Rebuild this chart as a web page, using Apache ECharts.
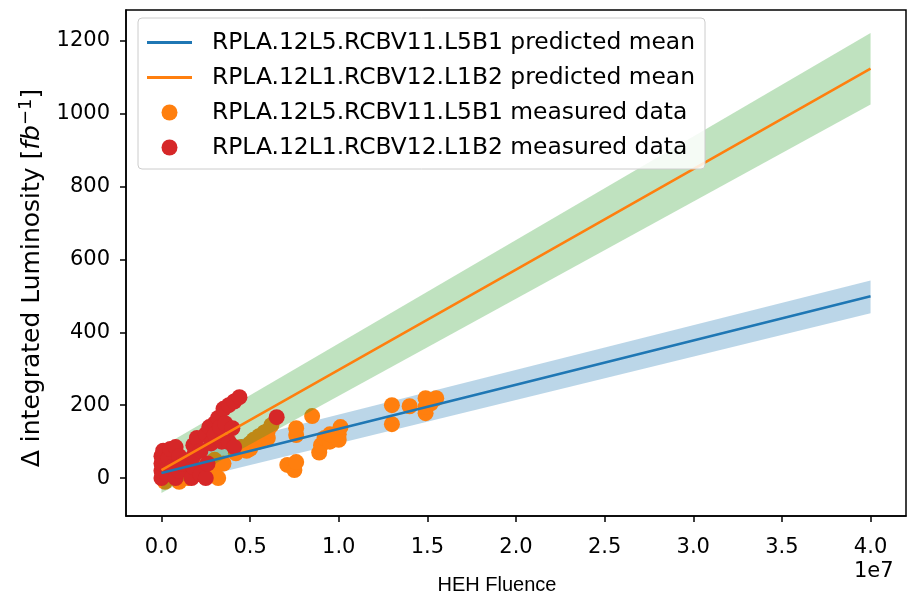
<!DOCTYPE html>
<html>
<head>
<meta charset="utf-8">
<script src="https://cdn.jsdelivr.net/npm/echarts@6/dist/echarts.min.js"></script>
<style>
html, body {margin: 0; padding: 0; background: #fff;}
#chart {width: 907px; height: 595px;}
</style>
</head>
<body>
<div id="chart"></div>
<script>
// x values are HEH fluence in units of 1e7
var xTicks = [0, 0.5, 1, 1.5, 2, 2.5, 3, 3.5, 4];
var yTicks = [0, 200, 400, 600, 800, 1000, 1200];

var meanX = [0, 2, 4];
var meanL5B1 = [14, 256, 499];
var meanL1B2 = [22, 572, 1123];

var bandX = [0, 4];
var bandL5B1Low = [-24, 452];
var bandL5B1High = [52, 542];
var bandL1B2Low = [-41, 1025];
var bandL1B2High = [85, 1221];

var measuredL5B1 = [
    [0.02, -10], [0.05, 5], [0.1, -10], [0.12, 10], [0.15, 0], [0.2, 30],
    [0.28, 20], [0.3, 14], [0.32, 0], [0.3, 50], [0.35, 40], [0.42, 68],
    [0.45, 85], [0.48, 75], [0.5, 95], [0.5, 80], [0.52, 105], [0.55, 100],
    [0.55, 115], [0.58, 125], [0.6, 110], [0.6, 130], [0.62, 145],
    [0.71, 36], [0.75, 22], [0.76, 44], [0.76, 118], [0.76, 137], [0.85, 170],
    [0.89, 70], [0.9, 90], [0.92, 110], [0.95, 100], [0.95, 120], [1.0, 105],
    [1.0, 120], [1.01, 140],
    [1.3, 200], [1.3, 148], [1.4, 197], [1.49, 219], [1.55, 219], [1.49, 178],
    [1.49, 195], [1.52, 205]
];

var measuredL1B2 = [
    [0.0, 0], [0.0, 20], [0.0, 40], [0.0, 60], [0.01, 75], [0.03, 10],
    [0.04, 55], [0.05, 80], [0.06, 30], [0.08, 85], [0.08, 0], [0.1, 60],
    [0.1, 20], [0.12, 40],
    [0.17, 0], [0.18, 30], [0.18, 60], [0.18, 90], [0.2, 110], [0.22, 10],
    [0.22, 75], [0.25, 120], [0.25, 0], [0.26, 40], [0.27, 140], [0.28, 95],
    [0.3, 150], [0.3, 120], [0.32, 165], [0.33, 140], [0.34, 100], [0.35, 190],
    [0.36, 150], [0.38, 200], [0.38, 99], [0.4, 137], [0.41, 85], [0.41, 210],
    [0.44, 222], [0.65, 167]
];

var names = [
    'RPLA.12L5.RCBV11.L5B1 predicted mean',
    'RPLA.12L1.RCBV12.L1B2 predicted mean',
    'RPLA.12L5.RCBV11.L5B1 measured data',
    'RPLA.12L1.RCBV12.L1B2 measured data'
];

function pairs(xs, ys) {
    return xs.map(function(x, i) { return [x, ys[i]]; });
}

// confidence band drawn as a polygon through the axis scales
function band(lo, hi, color, z) {
    return {
        type: 'custom', z: z, silent: true, clip: true,
        data: [[bandX[0], lo[0]]],
        renderItem: function(params, api) {
            var pts = [];
            for (var i = 0; i < bandX.length; i++) pts.push(api.coord([bandX[i], hi[i]]));
            for (var j = bandX.length - 1; j >= 0; j--) pts.push(api.coord([bandX[j], lo[j]]));
            return {type: 'polygon', shape: {points: pts}, style: {fill: color}};
        }
    };
}

var font = 'DejaVu Sans';
var dom = document.getElementById('chart');
var myChart = echarts.init(dom, null, {renderer: 'canvas'});

var option = {
    animation: false,
    textStyle: {fontFamily: font},
    grid: {
        left: 126, right: 1, top: 10, bottom: 79,
        outerBoundsMode: 'none', containLabel: false,
        show: true, borderColor: '#000', borderWidth: 1.5
    },
    legend: {
        data: [
            {name: names[0], icon: 'path://M0,0 L45,0 L45,3 L0,3 Z'},
            {name: names[1], icon: 'path://M0,0 L45,0 L45,3 L0,3 Z'},
            {name: names[2], icon: 'circle'},
            {name: names[3], icon: 'circle'}
        ],
        orient: 'vertical',
        left: 138, top: 18,
        itemWidth: 45, itemHeight: 16,
        itemGap: 12,
        padding: [13, 10, 10, 9],
        backgroundColor: 'rgba(255,255,255,0.85)',
        borderColor: '#ccc', borderWidth: 1, borderRadius: 4,
        selectedMode: false,
        textStyle: {fontFamily: font, fontSize: 23.4, color: '#000', padding: [0, 0, 0, 15]},
        z: 10
    },
    xAxis: {
        type: 'value', min: -0.2, max: 4.2,
        name: 'HEH Fluence', nameLocation: 'middle', nameGap: 59,
        nameTextStyle: {fontFamily: 'Liberation Sans', fontSize: 20, color: '#000', padding: [0, 38, 0, 0]},
        axisLine: {show: true, onZero: false, lineStyle: {color: '#000', width: 1.5}},
        axisTick: {show: true, length: 6, lineStyle: {color: '#000', width: 1.5}, customValues: xTicks},
        axisLabel: {
            fontFamily: font, fontSize: 21, color: '#000', margin: 21,
            customValues: xTicks,
            formatter: function(v) { return v.toFixed(1); }
        },
        splitLine: {show: false}
    },
    yAxis: {
        type: 'value', min: -104, max: 1284,
        name: '{n|Δ integrated Luminosity [}{i|fb}{s|−1}{n|]}',
        nameLocation: 'middle', nameGap: 78,
        nameTextStyle: {
            color: '#000', padding: [0, 30, 0, 0],
            rich: {
                n: {fontFamily: font, fontSize: 25, color: '#000', lineHeight: 31},
                i: {fontFamily: font, fontSize: 25, fontStyle: 'italic', color: '#000', lineHeight: 31},
                s: {fontFamily: font, fontSize: 18, color: '#000', lineHeight: 18, verticalAlign: 'top'}
            }
        },
        axisLine: {show: true, onZero: false, lineStyle: {color: '#000', width: 1.5}},
        axisTick: {show: true, length: 6, lineStyle: {color: '#000', width: 1.5}, customValues: yTicks},
        axisLabel: {
            fontFamily: font, fontSize: 21, color: '#000', margin: 16,
            customValues: yTicks,
            formatter: function(v) { return String(v); }
        },
        splitLine: {show: false}
    },
    graphic: [{
        type: 'text', left: 854, top: 561,
        style: {text: '1e7', font: '21px "DejaVu Sans"', fill: '#000'}
    }],
    series: [
        band(bandL5B1Low, bandL5B1High, 'rgba(31,119,180,0.3)', 1),
        {
            name: names[2], type: 'scatter', z: 2,
            data: measuredL5B1, symbolSize: 16,
            itemStyle: {color: '#ff7f0e', opacity: 1}
        },
        band(bandL1B2Low, bandL1B2High, 'rgba(44,160,44,0.3)', 3),
        {
            name: names[3], type: 'scatter', z: 4,
            data: measuredL1B2, symbolSize: 16,
            itemStyle: {color: '#d62728', opacity: 1}
        },
        {
            name: names[0], type: 'line', z: 5,
            data: pairs(meanX, meanL5B1), symbol: 'none',
            lineStyle: {color: '#1f77b4', width: 2.5}, itemStyle: {color: '#1f77b4'}
        },
        {
            name: names[1], type: 'line', z: 5,
            data: pairs(meanX, meanL1B2), symbol: 'none',
            lineStyle: {color: '#ff7f0e', width: 2.5}, itemStyle: {color: '#ff7f0e'}
        }
    ]
};

myChart.setOption(option);
</script>
</body>
</html>
